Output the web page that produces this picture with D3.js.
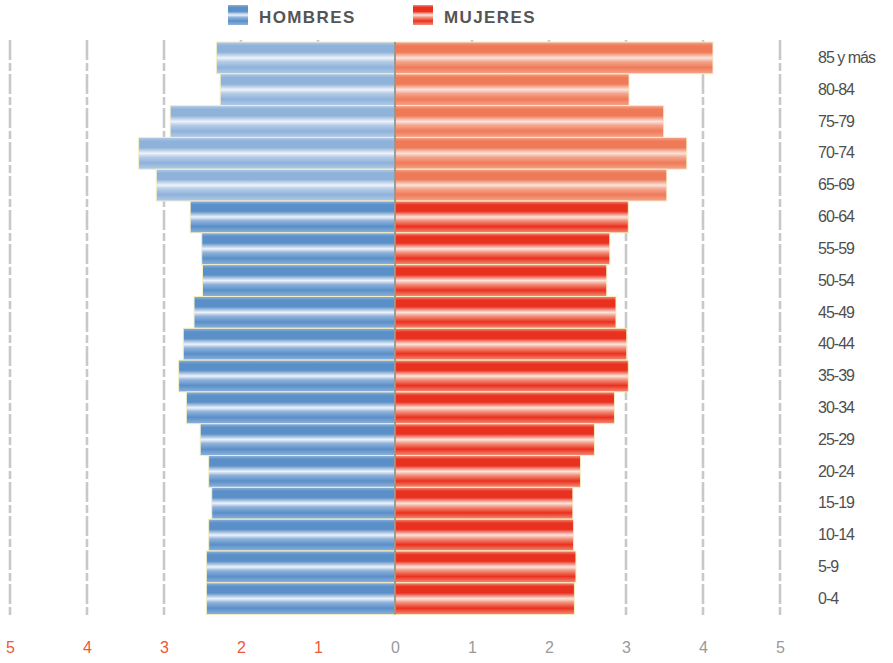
<!DOCTYPE html>
<html lang="es">
<head>
<meta charset="utf-8">
<script src="https://cdn.jsdelivr.net/npm/d3@7"></script>
<style>
  html, body { margin: 0; padding: 0; background: #fff; }
  svg { display: block; font-family: "Liberation Sans", Arial, sans-serif; }
</style>
</head>
<body>
<svg id="chart" width="893" height="663"></svg>
<script>
// Grupos de edad (de mayor a menor, de arriba abajo)
const ageGroups = ["85 y más", "80-84", "75-79", "70-74", "65-69", "60-64", "55-59", "50-54",
  "45-49", "40-44", "35-39", "30-34", "25-29", "20-24", "15-19", "10-14", "5-9", "0-4"];
// Porcentaje de población por grupo de edad
const hombres = [2.32, 2.27, 2.92, 3.33, 3.10, 2.66, 2.51, 2.50, 2.61, 2.75, 2.81, 2.71, 2.53, 2.42, 2.38, 2.42, 2.45, 2.45];
const mujeres = [4.13, 3.04, 3.49, 3.79, 3.53, 3.03, 2.79, 2.75, 2.87, 3.01, 3.03, 2.85, 2.59, 2.41, 2.31, 2.32, 2.35, 2.33];
// Grupos de 65 años y más
const mayores = ["85 y más", "80-84", "75-79", "70-74", "65-69"];
const ticks = [-5, -4, -3, -2, -1, 0, 1, 2, 3, 4, 5];
const seriesNames = ["HOMBRES", "MUJERES"];

const svg = d3.select("#chart");
const x = d3.scaleLinear().domain([-5, 5]).range([10, 780]);
const y = d3.scaleBand().domain(ageGroups).range([42, 614.6]).padding(0);

// Degradados con franjas horizontales
const defs = svg.append("defs");
function stripe(id, dark, light, mid) {
  const g = defs.append("linearGradient").attr("id", id)
    .attr("x1", 0).attr("y1", 0).attr("x2", 0).attr("y2", 1);
  [[0, mid], [0.12, dark], [0.32, dark], [0.5, light], [0.62, mid], [0.8, dark], [1, mid]]
    .forEach(([o, c]) => g.append("stop").attr("offset", o).attr("stop-color", c));
}
stripe("gH", "#5a8fc8", "#eef3fa", "#8fb2dc");
stripe("gHl", "#8fb2db", "#eef3f9", "#b3cbe7");
stripe("gM", "#e9311f", "#fbe6de", "#f3907a");
stripe("gMl", "#ef7a58", "#f9e4dc", "#f4a58d");

// Líneas de cuadrícula discontinuas
svg.append("g").selectAll("line")
  .data(ticks.filter(t => t !== 0))
  .join("line")
  .attr("x1", d => x(d)).attr("x2", d => x(d))
  .attr("y1", 40).attr("y2", 615)
  .attr("stroke", "#c8c8c8").attr("stroke-width", 2.6)
  .attr("stroke-dasharray", "20,3,8,3");

// Barras de hombres (izquierda)
svg.append("g").selectAll("rect")
  .data(ageGroups.map((a, i) => ({ a, v: hombres[i] })))
  .join("rect")
  .attr("x", d => x(-d.v)).attr("width", d => x(0) - x(-d.v))
  .attr("y", d => y(d.a)).attr("height", y.bandwidth())
  .attr("fill", d => mayores.includes(d.a) ? "url(#gHl)" : "url(#gH)")
  .attr("stroke", "#f4efc4").attr("stroke-width", 1);

// Barras de mujeres (derecha)
svg.append("g").selectAll("rect")
  .data(ageGroups.map((a, i) => ({ a, v: mujeres[i] })))
  .join("rect")
  .attr("x", x(0)).attr("width", d => x(d.v) - x(0))
  .attr("y", d => y(d.a)).attr("height", y.bandwidth())
  .attr("fill", d => mayores.includes(d.a) ? "url(#gMl)" : "url(#gM)")
  .attr("stroke", "#f4efc4").attr("stroke-width", 1);

// Eje central
svg.append("line")
  .attr("x1", x(0)).attr("x2", x(0))
  .attr("y1", 42).attr("y2", 614.6)
  .attr("stroke", "#8a8a8a").attr("stroke-width", 1.6);

// Eje inferior
const xAxis = svg.append("g")
  .attr("transform", "translate(0,642)")
  .call(d3.axisBottom(x).tickValues(ticks).tickSize(0).tickPadding(0)
    .tickFormat(d => Math.abs(d)));
xAxis.select(".domain").remove();
xAxis.selectAll("text")
  .attr("font-size", 16)
  .attr("font-family", "Liberation Sans, Arial, sans-serif")
  .attr("fill", d => d < 0 ? "#f0563a" : "#9a9a9a");

// Eje de grupos de edad
const yAxis = svg.append("g")
  .attr("transform", "translate(810,0)")
  .call(d3.axisRight(y).tickSize(0).tickPadding(8));
yAxis.select(".domain").remove();
yAxis.selectAll("text")
  .attr("font-size", 16)
  .attr("letter-spacing", "-1px")
  .attr("font-family", "Liberation Sans, Arial, sans-serif")
  .attr("fill", "#4f4f4f");

// Leyenda
const legend = svg.append("g");
const legendItems = [
  { name: seriesNames[0], fill: "url(#gH)", x: 228 },
  { name: seriesNames[1], fill: "url(#gM)", x: 413 }
];
const li = legend.selectAll("g").data(legendItems).join("g")
  .attr("transform", d => `translate(${d.x},5)`);
li.append("rect").attr("width", 20).attr("height", 20).attr("fill", d => d.fill);
li.append("text")
  .attr("x", 31).attr("y", 18)
  .attr("font-size", 17).attr("font-weight", "bold")
  .attr("letter-spacing", "1.4px")
  .attr("fill", "#555")
  .text(d => d.name);
</script>
</body>
</html>
